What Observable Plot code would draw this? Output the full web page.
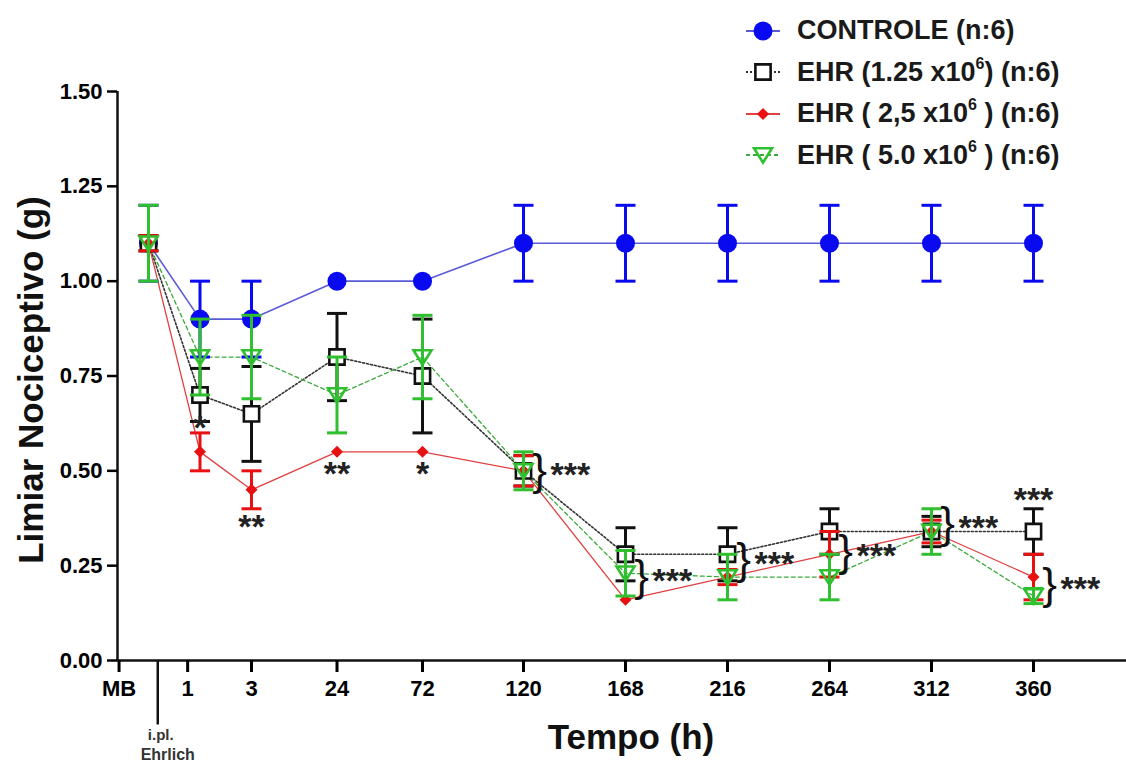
<!DOCTYPE html>
<html>
<head>
<meta charset="utf-8">
<script src="https://cdn.jsdelivr.net/npm/d3@7"></script>
<script src="https://cdn.jsdelivr.net/npm/@observablehq/plot@0.6"></script>
<style>
  html, body { margin: 0; padding: 0; background: #fff; }
  #wrap { position: relative; width: 1126px; height: 761px; font-family: "Liberation Sans", Arial, sans-serif; }
  #legend { position: absolute; left: 744px; top: 10px; }
  .row { display: flex; align-items: center; height: 41.5px; }
  .row svg { width: 38px; height: 30px; margin-right: 15px; }
  .row span { font-size: 27px; font-weight: bold; color: #1a1a1a; white-space: pre; }
  .row sup { font-size: 16px; vertical-align: 12px; line-height: 0; }
</style>
</head>
<body>
<div id="wrap">
  <div id="chart"></div>
  <div id="legend"></div>
</div>
<script>
// ---- data ----
const times = ["MB", "1", "3", "24", "72", "120", "168", "216", "264", "312", "360"];
const ctrlMean   = [1.10, 0.90, 0.90, 1.00, 1.00, 1.10, 1.10, 1.10, 1.10, 1.10, 1.10];
const ctrlErr    = [0.10, 0.10, 0.10, 0.00, 0.00, 0.10, 0.10, 0.10, 0.10, 0.10, 0.10];
const ehr125Mean = [1.10, 0.70, 0.65, 0.80, 0.75, 0.50, 0.28, 0.28, 0.34, 0.34, 0.34];
const ehr125Err  = [0.02, 0.07, 0.125, 0.115, 0.15, 0.04, 0.07, 0.07, 0.06, 0.04, 0.06];
const ehr25Mean  = [1.10, 0.55, 0.45, 0.55, 0.55, 0.50, 0.16, 0.22, 0.28, 0.34, 0.22];
const ehr25Err   = [0.02, 0.05, 0.05, 0.00, 0.00, 0.04, 0.00, 0.02, 0.06, 0.03, 0.06];
const ehr50Mean  = [1.10, 0.80, 0.80, 0.70, 0.80, 0.50, 0.23, 0.22, 0.22, 0.34, 0.17];
const ehr50Err   = [0.10, 0.10, 0.11, 0.10, 0.11, 0.05, 0.06, 0.06, 0.06, 0.06, 0.02];
const yTicks = [0, 0.25, 0.5, 0.75, 1.0, 1.25, 1.5];
const seriesLabels = ["CONTROLE (n:6)", "EHR (1.25 x10|6) (n:6)", "EHR ( 2,5 x10|6 ) (n:6)", "EHR ( 5.0 x10|6 ) (n:6)"];
// significance marks: [time index, y value, text]
const starMarks = [[1, 0.62, "*"], [2, 0.36, "**"], [3, 0.50, "**"], [4, 0.50, "*"], [10, 0.43, "***"]];
const braceMarks = [[5, 0.50], [6, 0.22], [7, 0.265], [8, 0.285], [9, 0.36], [10, 0.20]];

// ---- styles ----
const styles = [
  {color: "#0a0af0", line: "#5a5ad8", lw: 1.6, dash: null, symbol: "circle", r: 9.5, fill: "#0a0af0", sw: 0},
  {color: "#111111", line: "#333333", lw: 1.6, dash: "2,2", symbol: "square", r: 8.6, fill: "white", sw: 2.6},
  {color: "#e81010", line: "#e04040", lw: 1.3, dash: null, symbol: "diamond2", r: 5.4, fill: "#e81010", sw: 0},
  {color: "#2fbf2f", line: "#3aaa3a", lw: 1.3, dash: "4,3", symbol: "triDown", r: 9, fill: "none", sw: 2.6}
];
const capSymbol = {draw(ctx, size) { const w = Math.sqrt(size / Math.PI); ctx.moveTo(-w, 0); ctx.lineTo(w, 0); }};
const triDown = {draw(ctx, size) { const r = Math.sqrt(size / Math.PI); ctx.moveTo(-r, -r * 0.75); ctx.lineTo(r, -r * 0.75); ctx.lineTo(0, r * 0.85); ctx.closePath(); }};

const means = [ctrlMean, ehr125Mean, ehr25Mean, ehr50Mean];
const errs = [ctrlErr, ehr125Err, ehr25Err, ehr50Err];
const rows = [];
means.forEach((m, s) => m.forEach((v, i) => rows.push({s, i, v, e: errs[s][i]})));

// non-uniform axis: piecewise linear scale over the time index
const xScale = {type: "linear", domain: [-0.6, 0, 2, 4, 5, 10, 10.91], range: [117, 148, 251, 422, 523, 1033, 1126]};
const tickIdx = [-0.57, 0.76, 2, 3, 4, 5, 6, 7, 8, 9, 10];
const tickText = new Map(tickIdx.map((t, k) => [t, times[k]]));
const sepIdx = 0.18;

const marks = [];
// axes lines
marks.push(Plot.ruleY([0], {stroke: "#111", strokeWidth: 2.5}));
marks.push(Plot.ruleX([-0.6], {y1: 0, y2: 1.5, stroke: "#111", strokeWidth: 2.5}));
marks.push(Plot.axisY(yTicks, {tickFormat: d => d.toFixed(2), tickSize: 10, tickPadding: 5, fontSize: 22, fontWeight: "bold", strokeWidth: 2.5, label: null}));
marks.push(Plot.axisX(tickIdx, {tickFormat: d => tickText.get(d), tickSize: 12, tickPadding: 8, fontSize: 22, fontWeight: "bold", strokeWidth: 3, label: null}));
marks.push(Plot.ruleX([sepIdx], {y1: 0, y2: -0.17, stroke: "#111", strokeWidth: 2.5}));
marks.push(Plot.text(["i.pl."], {x: sepIdx, y: -0.197, dx: 3, fontSize: 15, fontWeight: "bold", fill: "#333"}));
marks.push(Plot.text(["Ehrlich"], {x: sepIdx, y: -0.248, dx: 10, fontSize: 16, fontWeight: "bold", fill: "#333"}));
marks.push(Plot.text(["Tempo (h)"], {frameAnchor: "bottom", lineAnchor: "middle", dy: 77, dx: 9, fontSize: 35, fontWeight: "bold", fill: "#111"}));
marks.push(Plot.text(["Limiar Nociceptivo (g)"], {frameAnchor: "left", textAnchor: "middle", lineAnchor: "middle", dx: -86, dy: 4, rotate: -90, fontSize: 35, fontWeight: "bold", fill: "#111"}));

// lines
styles.forEach((st, s) => {
  marks.push(Plot.line(rows.filter(d => d.s === s), {x: "i", y: "v", stroke: st.line, strokeWidth: st.lw, strokeDasharray: st.dash}));
});
// error bars + markers
styles.forEach((st, s) => {
  const data = rows.filter(d => d.s === s && d.e > 0);
  marks.push(Plot.ruleX(data, {x: "i", y1: d => d.v - d.e, y2: d => d.v + d.e, stroke: st.color, strokeWidth: 3}));
  marks.push(Plot.dot(data, {x: "i", y: d => d.v + d.e, symbol: capSymbol, r: 10, stroke: st.color, strokeWidth: 3}));
  marks.push(Plot.dot(data, {x: "i", y: d => d.v - d.e, symbol: capSymbol, r: 10, stroke: st.color, strokeWidth: 3}));
  const sym = st.symbol === "triDown" ? triDown : st.symbol;
  marks.push(Plot.dot(rows.filter(d => d.s === s), {x: "i", y: "v", symbol: sym, r: st.r, fill: st.fill, stroke: st.sw ? st.color : "none", strokeWidth: st.sw}));
});
// significance
marks.push(Plot.text(starMarks, {x: d => d[0], y: d => d[1], text: d => d[2], fontSize: 34, fontWeight: "bold", fill: "#222", dy: 3}));
marks.push(Plot.text(braceMarks, {x: d => d[0], y: d => d[1], text: () => "}", dx: 16, fontSize: 44, fontWeight: "normal", fill: "#111"}));
marks.push(Plot.text(braceMarks, {x: d => d[0], y: d => d[1], text: () => "***", dx: 27, dy: 4, textAnchor: "start", fontSize: 34, fontWeight: "bold", fill: "#222"}));

const chart = Plot.plot({
  width: 1126,
  height: 761,
  marginTop: 91,
  marginBottom: 101,
  marginLeft: 117,
  marginRight: 0,
  x: xScale,
  y: {domain: [0, 1.5]},
  style: {fontFamily: "'Liberation Sans', Arial, sans-serif", background: "white", overflow: "visible"},
  marks
});
document.getElementById("chart").appendChild(chart);

// legend
const legend = d3.select("#legend");
seriesLabels.forEach((lab, s) => {
  const st = styles[s];
  const row = legend.append("div").attr("class", "row");
  const svg = row.append("svg");
  svg.append("line").attr("x1", 2).attr("x2", 36).attr("y1", 15).attr("y2", 15)
    .attr("stroke", st.line).attr("stroke-width", st.lw + 0.6).attr("stroke-dasharray", st.dash);
  const sym = st.symbol === "triDown" ? triDown : ({circle: d3.symbolCircle, square: d3.symbolSquare, diamond2: d3.symbolDiamond2})[st.symbol];
  svg.append("path").attr("transform", "translate(19,15)")
    .attr("d", d3.symbol(sym, Math.PI * st.r * st.r)())
    .attr("fill", st.fill).attr("stroke", st.sw ? st.color : "none").attr("stroke-width", st.sw);
  const parts = lab.split("|");
  const span = row.append("span");
  if (parts.length === 1) span.text(lab);
  else {
    span.append("tspan").text(parts[0]);
    span.append("sup").text(parts[1][0]);
    span.append("tspan").text(parts[1].slice(1));
  }
});
</script>
</body>
</html>
